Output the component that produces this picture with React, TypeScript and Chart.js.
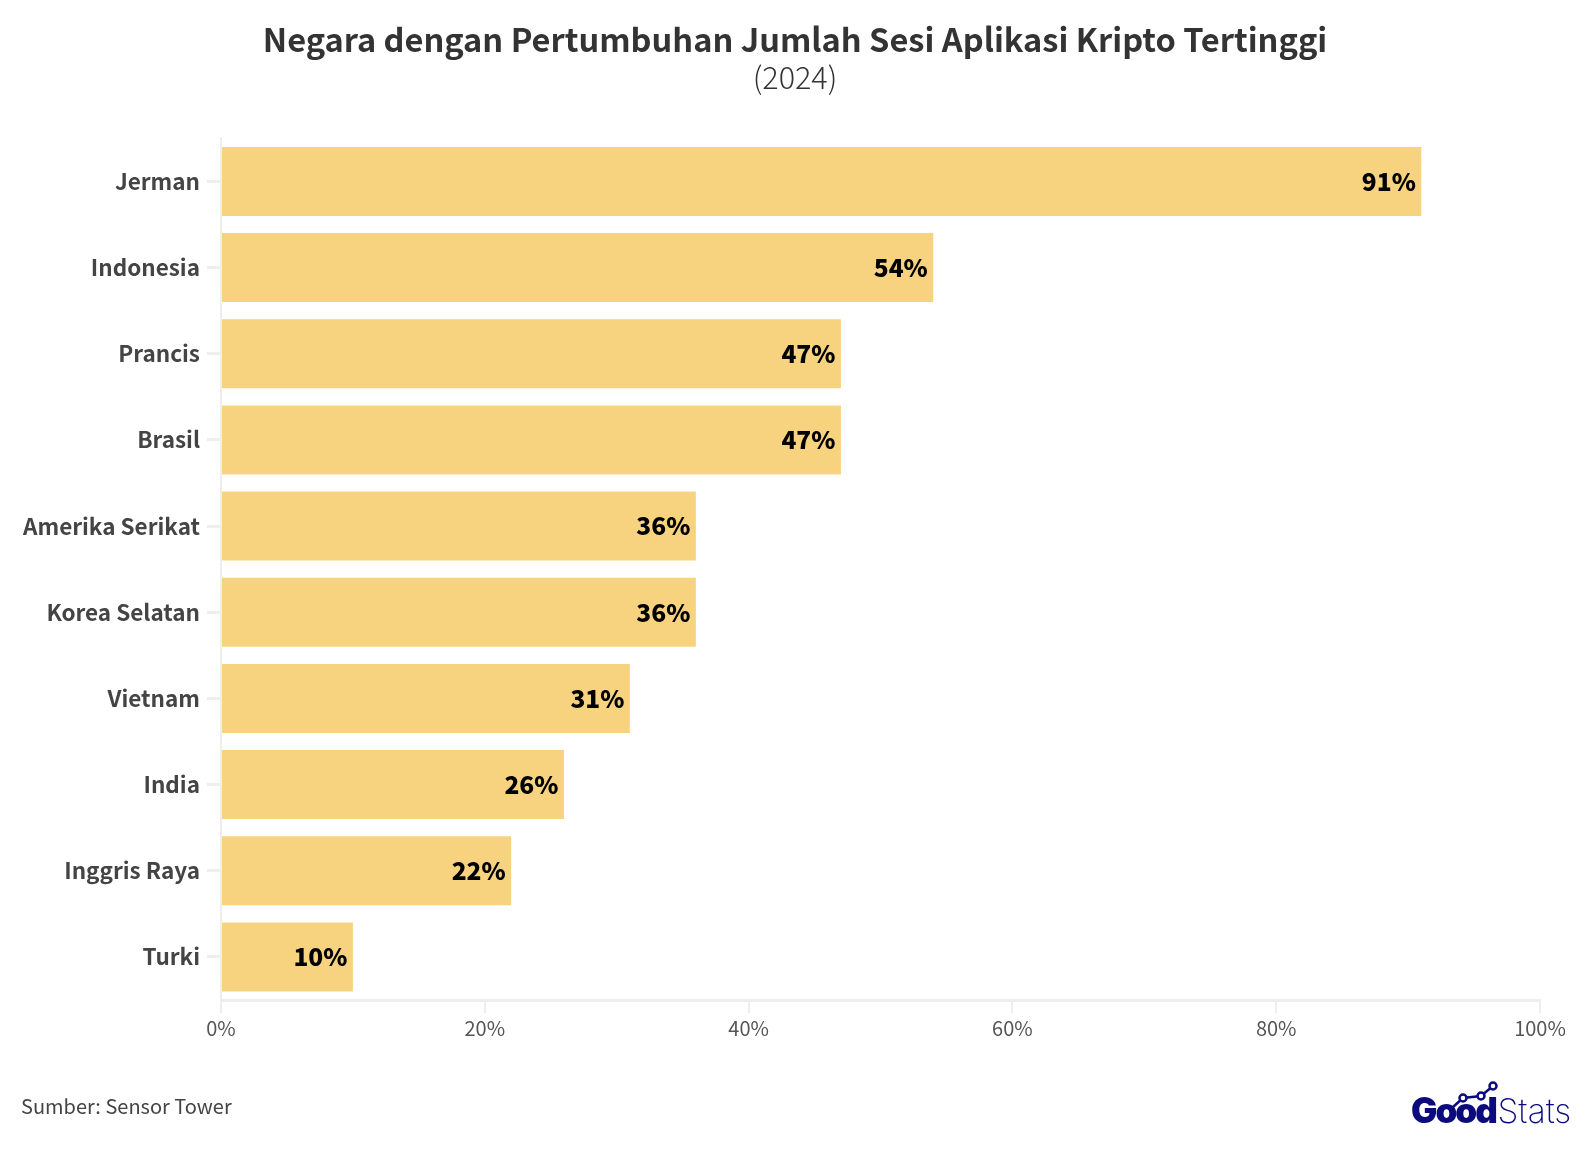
import { useEffect, useRef } from "react"
import { Chart, registerables, type Plugin } from "chart.js"

Chart.register(...registerables)

const FONT = "'Noto Sans CJK SC', 'Noto Sans', sans-serif"

const countries = [
  "Jerman",
  "Indonesia",
  "Prancis",
  "Brasil",
  "Amerika Serikat",
  "Korea Selatan",
  "Vietnam",
  "India",
  "Inggris Raya",
  "Turki",
]
const growth = [91, 54, 47, 47, 36, 36, 31, 26, 22, 10]
const xTicks = [0, 20, 40, 60, 80, 100]
const titleText = "Negara dengan Pertumbuhan Jumlah Sesi Aplikasi Kripto Tertinggi"
const subtitleText = "(2024)"
const sourceText = "Sumber: Sensor Tower"

// the y scale box stops at the side padding, its labels need the whole left edge
const widenLabelArea: Plugin<"bar"> = {
  id: "widenLabelArea",
  afterLayout(chart) {
    chart.scales.y.left = 0
  },
}

// value at the inside end of every bar
const barLabels: Plugin<"bar"> = {
  id: "barLabels",
  afterDatasetsDraw(chart) {
    const { ctx } = chart
    const meta = chart.getDatasetMeta(0)
    ctx.save()
    ctx.font = `900 24.5px ${FONT}`
    ctx.fillStyle = "#000000"
    ctx.textAlign = "right"
    ctx.textBaseline = "middle"
    meta.data.forEach((bar, i) => {
      ctx.fillText(`${growth[i]}%`, bar.x - 5.5, bar.y)
    })
    ctx.restore()
  },
}

// source line and the GoodStats logo
const footer: Plugin<"bar"> = {
  id: "footer",
  afterDraw(chart) {
    const { ctx } = chart
    ctx.save()
    ctx.textBaseline = "alphabetic"
    ctx.textAlign = "left"

    ctx.font = `400 20px ${FONT}`
    ctx.fillStyle = "#444444"
    ctx.fillText(sourceText, 21, 1114)

    const navy = "#0b0b7d"
    ctx.fillStyle = navy
    ctx.font = `900 35px Inter, sans-serif`
    ctx.letterSpacing = "-2px"
    ctx.fillText("Good", 1411, 1123)
    ctx.letterSpacing = "0px"
    ctx.font = `200 33.5px Inter, sans-serif`
    ctx.fillText("Stats", 1497.5, 1123)

    ctx.strokeStyle = navy
    ctx.lineWidth = 2.5
    ctx.beginPath()
    ctx.moveTo(1453, 1107)
    ctx.lineTo(1463, 1098)
    ctx.lineTo(1481, 1096)
    ctx.lineTo(1493, 1086)
    ctx.stroke()
    ctx.fillStyle = "#ffffff"
    for (const [x, y] of [
      [1463, 1098],
      [1481, 1096],
      [1493, 1086],
    ]) {
      ctx.beginPath()
      ctx.arc(x, y, 3.5, 0, Math.PI * 2)
      ctx.fill()
      ctx.stroke()
    }
    ctx.restore()
  },
}

export default function App() {
  const canvasRef = useRef<HTMLCanvasElement>(null)

  useEffect(() => {
    if (!canvasRef.current) return

    const chart = new Chart(canvasRef.current, {
      type: "bar",
      data: {
        labels: countries,
        datasets: [
          {
            data: growth,
            backgroundColor: "#f7d380",
            barPercentage: 0.8,
            categoryPercentage: 1,
          },
        ],
      },
      options: {
        indexAxis: "y",
        responsive: false,
        animation: false,
        // equal side padding keeps the title centred on the page
        layout: { padding: { left: 50, right: 50, top: 0, bottom: 114 } },
        plugins: {
          legend: { display: false },
          tooltip: { enabled: false },
          title: {
            display: true,
            text: titleText,
            color: "#333333",
            font: { family: FONT, size: 32.6, weight: "bold", lineHeight: 1.2 },
            padding: { top: 20, bottom: 0 },
          },
          subtitle: {
            display: true,
            text: subtitleText,
            color: "#333333",
            font: { family: FONT, size: 30.6, weight: "300", lineHeight: 1.2 },
            padding: { top: 0, bottom: 42.5 },
          },
        },
        scales: {
          x: {
            type: "linear",
            min: 0,
            max: 100,
            afterBuildTicks: (scale) => {
              scale.ticks = xTicks.map((value) => ({ value }))
            },
            afterFit: (scale) => {
              scale.height = 36
            },
            border: { color: "#eeeeee", width: 3 },
            grid: { drawOnChartArea: false, color: "#eeeeee", lineWidth: 2, tickLength: 13 },
            ticks: {
              color: "#555555",
              font: { family: FONT, size: 20 },
              padding: 3,
              maxRotation: 0,
              callback: (v) => `${v}%`,
            },
          },
          y: {
            type: "category",
            afterFit: (scale) => {
              scale.width = 171
            },
            border: { color: "#eeeeee", width: 2 },
            grid: { drawOnChartArea: false, offset: false, color: "#eeeeee", lineWidth: 3, tickLength: 14 },
            ticks: {
              color: "#444444",
              font: { family: FONT, size: 22.5, weight: "bold" },
              padding: 7,
            },
          },
        },
      },
      plugins: [widenLabelArea, barLabels, footer],
    })

    return () => chart.destroy()
  }, [])

  return (
    <div style={{ position: "absolute", left: 0, top: 0, width: 1590, height: 1150, background: "#ffffff" }}>
      <canvas ref={canvasRef} width={1590} height={1150} style={{ display: "block" }} />
    </div>
  )
}
